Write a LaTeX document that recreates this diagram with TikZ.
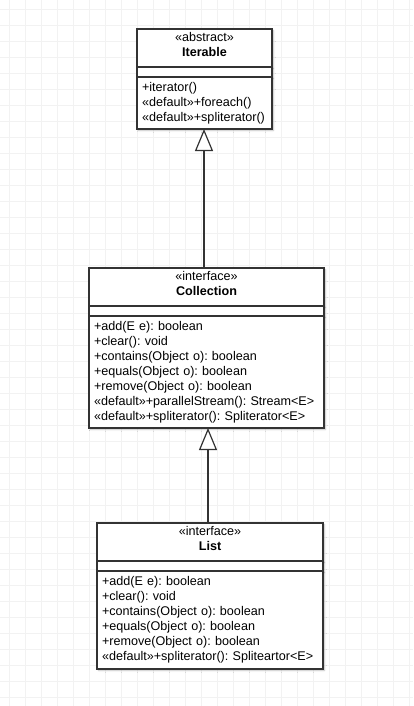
\documentclass[tikz,border=0pt]{standalone}
\usepackage{fontspec}
\setmainfont{Liberation Sans}
\frenchspacing
\usetikzlibrary{arrows.meta,positioning,shadows.blur}
\tikzset{
	gridline/.style={draw=black!5, line width=0.6pt},
	umlpart/.style={
			draw=black!80, line width=1.2pt, fill=white,
			inner xsep=5pt, inner ysep=0pt, outer sep=0pt,
			font=\fontsize{12.6}{15}\selectfont,
			blur shadow={shadow xshift=1.5pt, shadow yshift=-1.5pt,
					shadow blur radius=1.5pt, shadow opacity=25}
		},
	umlhead/.style={umlpart, minimum width=#1, minimum height=38pt, align=center,
			execute at end node={\rule[-7pt]{0pt}{7pt}}},
	umlattr/.style={umlpart, minimum width=#1, minimum height=10pt},
	umlbody/.style={umlpart, text width=#1, align=left},
	inherit/.style={draw=black!80, line width=1.2pt,
			-{Triangle[open, length=22pt, width=18pt, fill=white]}}
}

\begin{document}
\begin{tikzpicture}[x=1pt, y=-1pt]

	% Background grid
	\useasboundingbox (0,0) rectangle (413,706);
	\foreach \gx in {9,25,...,409} \draw[gridline] (\gx,0) -- (\gx,706);
	\foreach \gy in {9,25,...,697} \draw[gridline] (0,\gy) -- (413,\gy);

	% Iterable
	\node[umlhead=135pt, anchor=north] (iterhead) at (204.5,29) {«abstract»\\\textbf{Iterable}};
	\node[umlattr=135pt, below=0pt of iterhead] (iterattr) {};
	\node[umlbody=125pt, minimum height=52pt, below=0pt of iterattr] (itermeth)
	{+iterator()\\«default»+foreach()\\«default»+spliterator()};

	% Collection
	\node[umlhead=235pt, anchor=north] (collhead) at (206.5,268) {«interface»\\\textbf{Collection}};
	\node[umlattr=235pt, below=0pt of collhead] (collattr) {};
	\node[umlbody=225pt, minimum height=112pt, below=0pt of collattr] (collmeth)
	{+add(E e): boolean\\+clear(): void\\+contains(Object o): boolean\\
		+equals(Object o): boolean\\+remove(Object o): boolean\\
		«default»+parallelStream(): Stream<E>\\«default»+spliterator(): Spliterator<E>};

	% List
	\node[umlhead=226pt, anchor=north] (listhead) at (210,523) {«interface»\\\textbf{List}};
	\node[umlattr=226pt, below=0pt of listhead] (listattr) {};
	\node[umlbody=216pt, minimum height=98pt, below=0pt of listattr] (listmeth)
	{+add(E e): boolean\\+clear(): void\\+contains(Object o): boolean\\
		+equals(Object o): boolean\\+remove(Object o): boolean\\
		«default»+spliterator(): Spliteartor<E>};

	% Generalisation arrows
	\draw[inherit] ([xshift=-0.5pt]collhead.north -| itermeth.south) -- ([xshift=-0.5pt]itermeth.south);
	\draw[inherit] ([xshift=-2pt]listhead.north) -- ([xshift=-2pt]listhead.north |- collmeth.south);

\end{tikzpicture}
\end{document}
